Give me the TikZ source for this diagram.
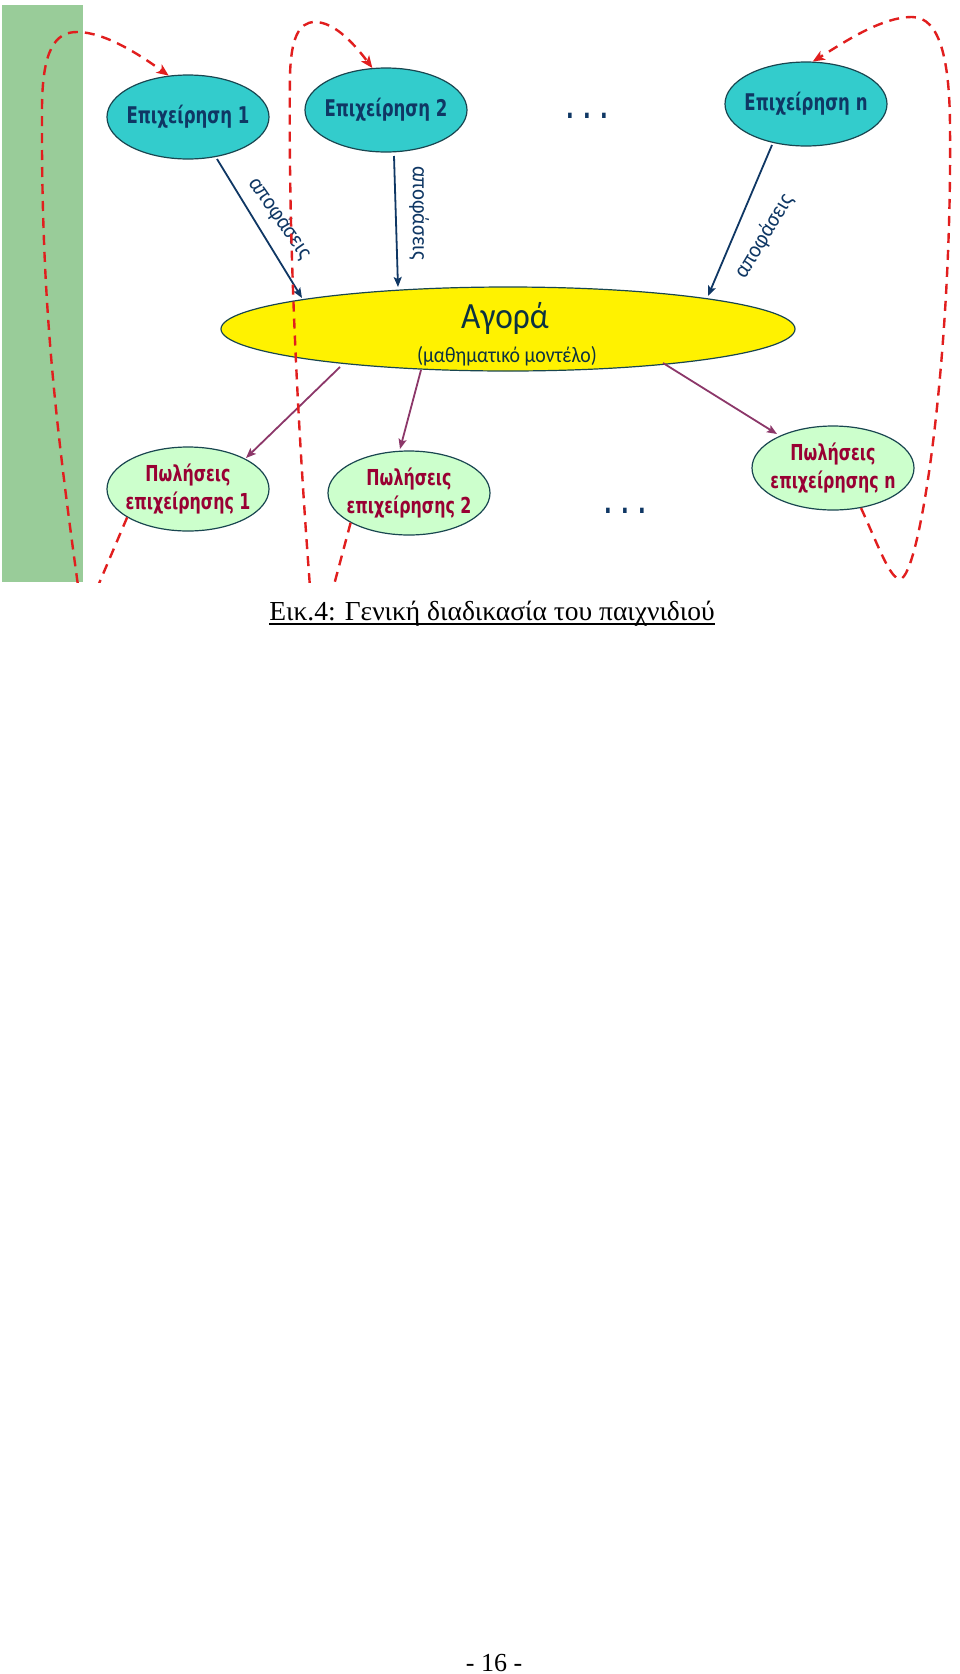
\documentclass[tikz,border=0pt]{standalone}
\usepackage{fontspec}
\setmainfont{Liberation Serif}
\newfontfamily\boxfont[FakeStretch=0.72]{DejaVu Sans}
\newfontfamily\mktfont[FakeStretch=0.9]{Carlito}
\usetikzlibrary{shapes.geometric,arrows.meta,calc}
\definecolor{gbar}{RGB}{153,204,153}
\definecolor{turq}{RGB}{51,204,204}
\definecolor{navy}{RGB}{15,55,100}
\definecolor{lgreen}{RGB}{204,255,204}
\definecolor{dred}{RGB}{153,0,51}
\definecolor{purp}{RGB}{140,55,105}
\definecolor{rdash}{RGB}{225,30,30}
\definecolor{mkttxt}{RGB}{12,50,65}
\definecolor{edgec}{RGB}{25,70,80}
\tikzset{
  company/.style={ellipse, draw=edgec, line width=1.2pt, fill=turq, minimum width=162pt, minimum height=84pt, inner sep=0pt},
  comptxt/.style={font=\boxfont\bfseries\fontsize{23}{26}\selectfont, text=navy, inner sep=0pt},
  market/.style={ellipse, draw=edgec, line width=1.2pt, fill=yellow, minimum width=574pt, minimum height=84pt, inner sep=0pt},
  mkt1/.style={font=\mktfont\fontsize{37}{40}\selectfont, text=mkttxt, inner sep=0pt},
  mkt2/.style={font=\mktfont\fontsize{22}{26}\selectfont, text=mkttxt, inner sep=0pt},
  sales/.style={ellipse, draw=edgec, line width=1.2pt, fill=lgreen, minimum width=162pt, minimum height=84pt, inner sep=0pt},
  salestxt/.style={font=\boxfont\bfseries\fontsize{22}{28}\selectfont, text=dred, align=center, inner sep=0pt},
  decarrow/.style={draw=navy, line width=1.8pt, -{Stealth[length=10pt,width=8pt,inset=2pt]}},
  salarrow/.style={draw=purp, line width=1.8pt, -{Stealth[length=10pt,width=8pt,inset=2pt]}},
  lab/.style={font=\mktfont\fontsize{23}{26}\selectfont, text=navy, inner sep=0pt},
  reddash/.style={draw=rdash, line width=2.4pt, dash pattern=on 10pt off 7pt},
  redarrow/.style={reddash, -{Stealth[length=12pt,width=10pt,inset=3pt]}},
  dotstxt/.style={font=\boxfont\bfseries\fontsize{28}{30}\selectfont, text=navy, inner sep=0pt, anchor=base},
}
\begin{document}
\begin{tikzpicture}[x=1pt,y=-1pt]
\useasboundingbox (0,0) rectangle (960,1674);
\fill[white] (0,0) rectangle (960,1674);
\begin{scope}
\clip (0,0) rectangle (960,582);
\fill[gbar] (2,5) rectangle (83,582);
% companies
\node[company, label={[comptxt]center:Επιχείρηση 1}] (e1) at (188,117) {};
\node[company, label={[comptxt]center:Επιχείρηση 2}] (e2) at (386,110) {};
\node[company, label={[comptxt]center:Επιχείρηση n}] (en) at (806,104) {};
\node[dotstxt] (d1) at (587,118) {. . .};
% market
\node[market] (m) at (508,329) {};
\node[mkt1, anchor=base] (agora) at (505,328) {Αγορά};
\node[mkt2, anchor=base] (model) at (507,362) {(μαθηματικό μοντέλο)};
% sales
\node[sales, label={[salestxt]center:{Πωλήσεις\\επιχείρησης 1}}] (s1) at (188,489) {};
\node[sales, label={[salestxt]center:{Πωλήσεις\\επιχείρησης 2}}] (s2) at (409,493) {};
\node[sales, label={[salestxt]center:{Πωλήσεις\\επιχείρησης n}}] (sn) at (833,468) {};
\node[dotstxt] (d2) at (625,513) {. . .};
% decision arrows
\draw[decarrow] ($(e1.center)+(29,42)$) -- ($(m.center)+(-206,-31)$);
\draw[decarrow] ($(e2.center)+(8,46)$) -- ($(m.center)+(-110,-42)$);
\draw[decarrow] ($(en.center)+(-34,41)$) -- ($(m.center)+(200,-33)$);
\node[lab, rotate=-55] (l1) at (280,218) {αποφάσεις};
\node[lab, rotate=-90] (l2) at (419,213) {αποφάσεις};
\node[lab, rotate=59] (l3) at (764,236) {αποφάσεις};
% sales arrows
\draw[salarrow] ($(m.center)+(-168,38)$) -- ($(s1.center)+(58,-31)$);
\draw[salarrow] ($(m.center)+(-87,41)$) -- ($(s2.center)+(-9,-44)$);
\draw[salarrow] ($(m.center)+(155,34)$) -- ($(sn.center)+(-56,-34)$);
% feedback loops
\coordinate (c1s) at (80,600);
\coordinate (c2s) at (311,600);
\coordinate (c4e) at (92,600);
\coordinate (c5e) at (330,600);
\draw[redarrow] (c1s) .. controls (55,420) and (41,300) .. (42,110)
  .. controls (42,50) and (55,32) .. (77,32)
  .. controls (105,32) and (140,55) .. (e1.115);
\draw[redarrow] (c2s) .. controls (297,420) and (288,230) .. (290,75)
  .. controls (291,40) and (298,22) .. (315,22)
  .. controls (335,22) and (355,45) .. (e2.108);
\draw[redarrow] (sn.-55) .. controls (878,545) and (890,579) .. (900,579)
  .. controls (920,578) and (952,360) .. (950,130)
  .. controls (950,60) and (940,17) .. (912,17)
  .. controls (880,17) and (840,45) .. (en.81);
\draw[reddash] (s1.-155) -- (c4e);
\draw[reddash] (s2.-153) -- (c5e);
\end{scope}
% caption
\node[font=\fontsize{27.5}{30}\selectfont, inner sep=0pt, anchor=base] (cap) at (492,620) {Εικ.4: Γενική διαδικασία του παιχνιδιού};
\draw[line width=1.3pt] ([yshift=-4pt]cap.base west) -- ([yshift=-4pt]cap.base east);
\node[font=\fontsize{26}{28}\selectfont, inner sep=0pt, anchor=base] (pg) at (494,1671) {- 16 -};
\end{tikzpicture}
\end{document}
